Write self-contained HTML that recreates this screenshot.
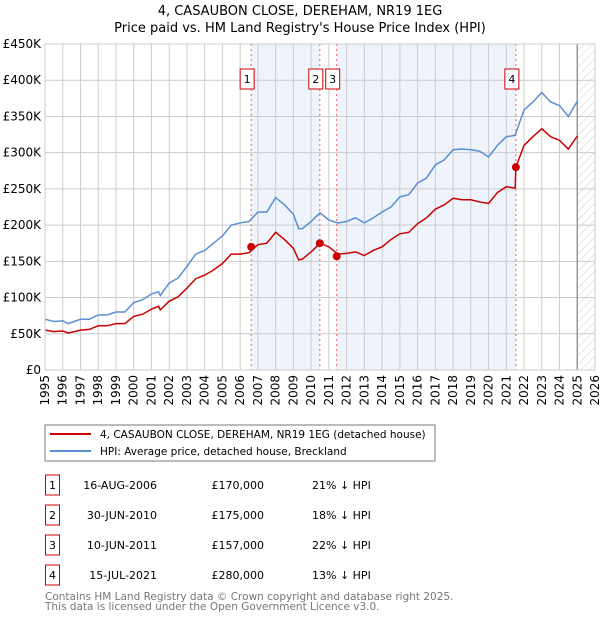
<!DOCTYPE html>
<html><head><meta charset="utf-8"><style>
body{margin:0;background:#fff;font-family:"DejaVu Sans","Liberation Sans",sans-serif;}
svg text{font-family:"DejaVu Sans","Liberation Sans",sans-serif;}
</style></head><body>
<svg id="chart" width="600" height="620" xmlns="http://www.w3.org/2000/svg">
<defs><pattern id="hatch" width="6" height="6" patternUnits="userSpaceOnUse" patternTransform="rotate(45)"><line x1="0" y1="0" x2="0" y2="6" stroke="#ccc" stroke-width="1"/></pattern></defs>
<text x="300" y="15" text-anchor="middle" font-size="13">4, CASAUBON CLOSE, DEREHAM, NR19 1EG</text>
<text x="300" y="32" text-anchor="middle" font-size="13">Price paid vs. HM Land Registry's House Price Index (HPI)</text>
<g id="plot"></g>
<rect x="45" y="425" width="390" height="36" fill="#fff" stroke="#777"/>
<line x1="50" y1="434" x2="91" y2="434" stroke="#cc0000" stroke-width="2"/>
<text x="100" y="438" font-size="10.5">4, CASAUBON CLOSE, DEREHAM, NR19 1EG (detached house)</text>
<line x1="50" y1="451" x2="91" y2="451" stroke="#5b8fd0" stroke-width="2"/>
<text x="100" y="455" font-size="10.5">HPI: Average price, detached house, Breckland</text>
<g id="table" font-size="11"></g>
<text x="45" y="600" font-size="10.5" fill="#777">Contains HM Land Registry data © Crown copyright and database right 2025.</text>
<text x="45" y="610" font-size="10.5" fill="#777">This data is licensed under the Open Government Licence v3.0.</text>
</svg>
<script>
const hpiYears=[1995,1995.5,1996,1996.3,1997,1997.5,1998,1998.5,1999,1999.5,2000,2000.5,2001,2001.4,2001.5,2002,2002.5,2003,2003.5,2004,2004.5,2005,2005.5,2006,2006.5,2007,2007.5,2008,2008.5,2009,2009.3,2009.5,2010,2010.5,2011,2011.5,2012,2012.5,2013,2013.5,2014,2014.5,2015,2015.5,2016,2016.5,2017,2017.5,2018,2018.5,2019,2019.5,2020,2020.5,2021,2021.5,2022,2022.5,2023,2023.5,2024,2024.5,2025];
const hpiValues=[70,67,68,64,70,70,76,76,80,80,93,97,105,108,103,120,127,143,160,165,175,185,200,203,205,218,218,238,228,215,195,195,205,217,207,203,205,210,203,210,218,225,239,242,258,265,283,290,304,305,304,302,294,310,322,324,359,370,383,370,365,350,371];
const priceYears=[1995,1995.5,1996,1996.3,1997,1997.5,1998,1998.5,1999,1999.5,2000,2000.5,2001,2001.4,2001.5,2002,2002.5,2003,2003.5,2004,2004.5,2005,2005.5,2006,2006.5,2007,2007.5,2008,2008.5,2009,2009.3,2009.5,2010,2010.5,2011,2011.5,2012,2012.5,2013,2013.5,2014,2014.5,2015,2015.5,2016,2016.5,2017,2017.5,2018,2018.5,2019,2019.5,2020,2020.5,2021,2021.5,2021.54,2022,2022.5,2023,2023.5,2024,2024.5,2025];
const priceValues=[55,53,54,51,55,56,61,61,64,64,74,77,84,88,83,95,101,113,126,131,138,147,160,160,162,173,175,190,180,168,152,153,163,175,170,160,161,163,158,165,170,180,188,190,202,210,222,228,237,235,235,232,230,245,253,251,280,310,322,333,322,317,305,323];
const saleLabels=["1","2","3","4"];
const saleYears=[2006.62,2010.49,2011.44,2021.54];
const salePrices=[170,175,157,280];
const saleDates=["16-AUG-2006","30-JUN-2010","10-JUN-2011","15-JUL-2021"];
const salePriceText=["£170,000","£175,000","£157,000","£280,000"];
const saleHpiText=["21% ↓ HPI","18% ↓ HPI","22% ↓ HPI","13% ↓ HPI"];
const yTicks=[0,50,100,150,200,250,300,350,400,450];
const yTickLabels=["£0","£50K","£100K","£150K","£200K","£250K","£300K","£350K","£400K","£450K"];
const xTicks=[1995,1996,1997,1998,1999,2000,2001,2002,2003,2004,2005,2006,2007,2008,2009,2010,2011,2012,2013,2014,2015,2016,2017,2018,2019,2020,2021,2022,2023,2024,2025,2026];

const NS="http://www.w3.org/2000/svg";
const L=45,R=595,T=44,B=370;
const xs=y=>L+(y-1995)*(R-L)/31;
const ys=v=>B-v*(B-T)/450;
const plot=document.getElementById('plot');
function mk(tag,attrs,parent){const e=document.createElementNS(NS,tag);for(const k in attrs)e.setAttribute(k,attrs[k]);(parent||plot).appendChild(e);return e;}
let e;
e=mk('rect',{x:xs(saleYears[0]),y:T,width:xs(saleYears[1])-xs(saleYears[0]),height:B-T,fill:'#eef3fc'});


e=mk('rect',{x:xs(saleYears[2]),y:T,width:xs(saleYears[3])-xs(saleYears[2]),height:B-T,fill:'#eef3fc'});


e=mk('rect',{x:xs(2025),y:T,width:xs(2026)-xs(2025),height:B-T,fill:'url(#hatch)'});


yTicks.forEach((v,i)=>{
 e=mk('line',{x1:L,x2:R,y1:ys(v),y2:ys(v),stroke:'#ccc','stroke-width':1});
 
 
 e=mk('text',{x:L-4,y:ys(v)+4,'text-anchor':'end','font-size':12});
 e.textContent=yTickLabels[i];
 
 
});
xTicks.forEach(t=>{
 e=mk('line',{x1:xs(t),x2:xs(t),y1:T,y2:B,stroke:'#ccc','stroke-width':1});
 
 
 e=mk('text',{x:0,y:0,'text-anchor':'end','font-size':12,transform:`translate(${xs(t)+4},${B+5}) rotate(-90)`});
 e.textContent=t;
 
 
});
e=mk('line',{x1:xs(2025),x2:xs(2025),y1:T,y2:B,stroke:'#999','stroke-width':1.5});


saleYears.forEach((y,i)=>{
 e=mk('line',{x1:xs(y),x2:xs(y),y1:T,y2:B,stroke:'#f06060','stroke-width':1,'stroke-dasharray':'2,3'});
 
 
 e=mk('rect',{x:xs(y)-11,y:69,width:14,height:20,fill:'#fff',stroke:'#cc0000'});
 
 
 e=mk('text',{x:xs(y)-4,y:83,'text-anchor':'middle','font-size':11});
 e.textContent=saleLabels[i];
 
 
});
e=mk('polyline',{points:hpiYears.map((y,i)=>xs(y)+','+ys(hpiValues[i])).join(' '),fill:'none',stroke:'#5b8fd0','stroke-width':1.5});


e=mk('polyline',{points:priceYears.map((y,i)=>xs(y)+','+ys(priceValues[i])).join(' '),fill:'none',stroke:'#cc0000','stroke-width':1.5});


saleYears.forEach((y,i)=>{
 e=mk('circle',{cx:xs(y),cy:ys(salePrices[i]),r:4,fill:'#cc0000'});
 
 
});
e=mk('rect',{x:L,y:T,width:R-L,height:B-T,fill:'none',stroke:'#ccc'});


const tbl=document.getElementById('table');
saleLabels.forEach((lab,i)=>{
 const cy=483+i*30;
 e=mk('rect',{x:45.5,y:cy-8,width:14,height:20,fill:'#fff',stroke:'#cc0000'},tbl);
 
 
 e=mk('text',{x:52.5,y:cy+6,'text-anchor':'middle'},tbl);e.textContent=lab;
 
 
 e=mk('text',{x:157,y:cy+6,'text-anchor':'end'},tbl);e.textContent=saleDates[i];
 
 
 e=mk('text',{x:264,y:cy+6,'text-anchor':'end'},tbl);e.textContent=salePriceText[i];
 
 
 e=mk('text',{x:312,y:cy+6},tbl);e.textContent=saleHpiText[i];
 
 
});
</script>
</body></html>
